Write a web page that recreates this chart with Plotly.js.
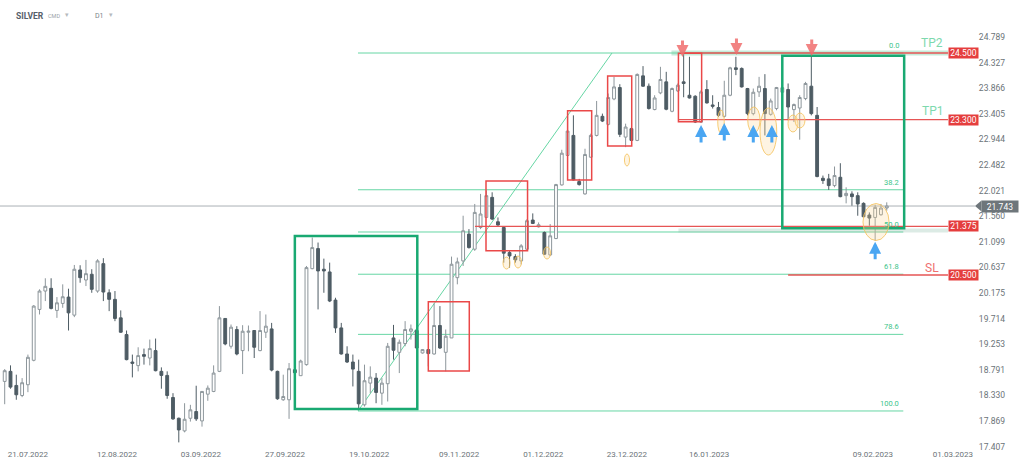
<!DOCTYPE html>
<html><head><meta charset="utf-8">
<script src="https://cdn.plot.ly/plotly-3.0.1.min.js"></script>
<style>html,body{margin:0;padding:0;background:#fff}#chart{width:1024px;height:466px}</style>
</head><body><div id="chart"></div>
<script>
// ---- data (SILVER, D1) ----
const openP = [18.583,18.764,18.510,18.329,18.523,18.963,19.880,20.211,20.260,19.862,19.988,20.102,19.777,20.591,20.410,20.513,20.211,20.705,20.180,20.061,19.728,19.427,18.932,18.867,19.066,19.004,19.138,18.764,18.691,18.293,17.919,17.691,17.919,18.040,17.871,18.353,18.402,18.764,19.717,19.216,19.518,19.138,19.469,19.500,19.138,19.469,19.529,18.764,18.252,18.252,18.794,18.686,18.885,20.614,20.976,20.604,20.555,20.048,19.547,19.077,18.932,18.764,18.161,18.552,18.642,18.371,18.541,19.366,19.107,19.265,19.487,19.500,19.095,19.156,19.077,19.590,19.107,19.366,20.452,20.754,21.237,20.965,21.356,21.537,21.899,21.459,21.356,20.904,20.832,20.754,20.965,21.490,21.369,21.266,20.862,21.157,22.123,22.654,23.015,22.183,21.961,22.623,23.015,23.359,23.214,23.672,23.878,22.985,23.137,22.925,24.088,23.902,23.481,23.781,23.980,23.450,23.817,23.980,23.739,23.721,23.256,23.842,23.564,23.517,23.359,23.739,24.233,24.222,23.860,23.408,23.799,23.860,23.395,23.499,23.793,23.842,23.480,23.509,23.679,23.902,23.377,22.243,22.232,22.111,22.261,21.930,21.961,21.930,21.791,21.581,21.537,21.586,21.707];
const highP = [18.805,18.872,18.704,18.642,19.066,19.958,20.242,20.441,20.441,20.102,20.332,20.253,20.681,20.676,20.772,20.604,20.785,20.803,20.242,20.211,19.862,19.500,19.066,19.198,19.174,19.337,19.355,18.836,18.764,18.371,17.931,18.190,18.161,18.505,18.402,18.510,18.872,19.940,19.717,19.608,19.578,19.596,19.590,19.500,19.850,19.789,19.637,18.776,18.704,18.914,18.812,18.975,20.663,21.175,21.085,20.795,20.723,20.090,19.637,19.216,19.066,18.975,18.885,18.854,18.733,18.642,19.276,19.601,19.337,19.669,19.608,19.500,19.167,19.167,19.988,19.940,19.518,20.832,20.814,21.568,21.327,21.780,21.961,22.020,21.990,21.537,21.356,20.935,20.875,21.056,21.508,21.610,21.447,21.284,21.418,22.142,22.757,23.408,23.377,22.232,22.775,23.046,23.636,23.408,23.770,24.070,23.938,23.227,23.166,24.132,24.264,23.951,23.739,24.251,24.161,23.878,23.951,24.481,24.432,23.739,23.830,24.011,23.739,23.618,24.000,24.251,24.432,24.240,23.871,23.860,24.070,24.119,23.679,23.889,23.920,23.951,23.589,23.739,23.980,24.481,23.527,22.292,22.322,22.455,22.514,22.080,22.008,21.990,21.809,21.628,21.767,21.780,21.809];
const lowP = [18.172,18.451,18.252,18.299,18.389,18.945,19.789,20.030,19.880,19.728,19.909,19.500,19.741,20.361,20.301,20.180,20.180,20.030,19.849,19.668,19.457,18.963,18.655,18.764,18.885,18.872,18.764,18.451,18.270,17.890,17.484,17.665,17.859,17.871,17.768,18.233,18.389,18.751,19.234,19.174,19.053,18.715,19.126,19.004,19.126,19.366,18.764,18.252,18.233,17.908,18.727,18.686,18.867,20.604,19.880,20.180,20.012,19.457,19.066,18.914,18.492,18.071,18.130,18.371,18.190,18.161,18.221,18.975,18.733,19.216,19.337,19.167,19.084,18.854,19.066,19.167,18.764,19.366,20.332,20.663,20.976,20.935,21.327,21.526,21.490,21.387,20.723,20.633,20.723,20.692,20.945,21.418,21.356,20.862,20.844,21.146,22.111,22.636,22.202,22.111,21.948,22.612,22.997,23.256,23.196,23.649,22.985,22.804,22.912,22.912,23.890,23.481,23.468,23.757,23.468,23.432,23.799,23.703,23.680,23.238,23.238,23.589,23.499,23.346,23.336,23.721,24.101,23.878,23.377,23.377,23.708,23.015,23.372,23.468,23.775,23.287,23.256,22.938,23.649,23.377,22.261,22.141,22.033,22.080,21.900,21.791,21.749,21.568,21.538,21.387,21.116,21.568,21.659];
const closeP = [18.776,18.480,18.342,18.559,19.017,19.940,20.211,20.296,19.898,19.999,20.108,19.818,20.604,20.452,20.524,20.242,20.754,20.193,20.061,19.717,19.469,18.975,18.908,19.048,19.035,19.174,18.776,18.691,18.329,17.908,17.709,17.901,18.071,17.908,18.402,18.461,18.733,19.728,19.258,19.560,19.077,19.487,19.487,19.198,19.500,19.578,18.787,18.270,18.311,18.812,18.740,18.950,20.633,20.994,20.573,20.573,20.031,19.547,19.077,18.932,18.805,18.179,18.595,18.660,18.384,18.552,19.216,19.144,19.288,19.518,19.529,19.185,19.156,19.084,19.590,19.185,19.397,20.694,20.736,21.297,20.994,21.628,21.599,21.930,21.508,21.400,20.893,20.844,20.772,21.025,21.478,21.429,21.405,20.875,21.206,22.129,22.695,23.093,22.214,22.129,22.672,23.015,23.377,23.274,23.698,23.889,23.034,23.166,22.925,24.114,23.902,23.499,23.690,24.023,23.486,23.860,23.920,23.951,23.690,23.256,23.799,23.600,23.540,23.377,23.739,24.233,24.204,23.889,23.408,23.793,23.902,23.408,23.636,23.878,23.875,23.527,23.571,23.698,23.951,23.408,22.274,22.202,22.111,22.292,21.912,21.971,21.912,21.780,21.550,21.526,21.718,21.707,21.743];

const tickLabels = ['21.07.2022','12.08.2022','03.09.2022','27.09.2022','19.10.2022','09.11.2022','01.12.2022','23.12.2022','16.01.2023','09.02.2023','01.03.2023'];
const tickBars = [4.0,19.35,33.8,48.3,62.8,78.3,92.8,107.2,121.4,149.6,163.4];
const priceTicks = [17.407,17.869,18.330,18.791,19.253,19.714,20.175,20.637,21.099,21.560,22.021,22.482,22.944,23.405,23.866,24.327,24.789];

const fibLevels = [0.0, 38.2, 50.0, 61.8, 78.6, 100.0];
const fibHigh = 24.5, fibLow = 18.05;
const levelPrices = [24.5, 23.3, 21.375, 20.5];
const levelNames = ['TP2','TP1','','SL'];
const lastPrice = 21.743;

// ---- overlays ----
const FONT = 'Roboto, "Open Sans", sans-serif';
const shapes = [];
const ann = [];
const XR = 162.55; // right end of level lines (bar units)

// current price line
shapes.push({type:'line', xref:'x', yref:'y', x0:-1, x1:167.2, y0:lastPrice, y1:lastPrice, line:{color:'#aab1b5', width:1}, layer:'below'});

// fibonacci
fibLevels.forEach(l => {
  const p = fibHigh - l/100*(fibHigh - fibLow);
  shapes.push({type:'line', xref:'x', yref:'y', x0:60.88, x1:154.85, y0:p, y1:p, line:{color:'#66d6a4', width:1}, layer:'below'});
  ann.push({xref:'x', yref:'y', x:154.5, y:p, xanchor:'right', yanchor:'bottom', yshift:1, text:l.toFixed(1), showarrow:false, font:{family:FONT, size:7.5, color:'#3cc48a'}});
});
shapes.push({type:'line', xref:'x', yref:'y', x0:60.88, y0:fibLow, x1:104.65, y1:fibHigh, line:{color:'#66d6a4', width:1}, layer:'below'});

// pale bands
shapes.push({type:'line', xref:'x', yref:'y', x0:114.9, x1:XR, y0:24.5, y1:24.5, line:{color:'rgba(110,205,160,0.4)', width:5}});
shapes.push({type:'line', xref:'x', yref:'y', x0:116.1, x1:XR, y0:21.30, y1:21.30, line:{color:'rgba(140,190,170,0.3)', width:4}});

// red level lines
const lineStarts = [116.9, 116.1, 81.04, 135.0];
levelPrices.forEach((p,i) => {
  shapes.push({type:'line', xref:'x', yref:'y', x0:lineStarts[i], x1:XR, y0:p, y1:p, line:{color:'#e65555', width:1.3}});
  ann.push({xref:'paper', yref:'y', x:948/1024, y:p, xanchor:'left', yanchor:'middle', text:p.toFixed(3), showarrow:false, bgcolor:'#e53e3e', width:29, height:10, borderpad:0, font:{family:FONT, size:8.5, color:'#ffffff'}});
});
// level names
const nameY = [24.68, 23.455, 0, 20.626];
const nameCol = ['#7dd9ae','#7dd9ae','','#ef6f6f'];
levelNames.forEach((n,i) => {
  if (!n) return;
  ann.push({xref:'paper', yref:'y', x:932/1024, y:nameY[i], xanchor:'center', yanchor:'middle', text:n, showarrow:false, font:{family:FONT, size:12, color:nameCol[i]}});
});

// green boxes
[[50.0,71.1,18.086,21.203],[134.0,155.0,21.341,24.451]].forEach(b => {
  shapes.push({type:'rect', xref:'x', yref:'y', x0:b[0], x1:b[1], y0:b[2], y1:b[3], line:{color:'#19a972', width:2.5}});
});
// red boxes
[[73.0,80.06,18.770,20.019],[82.94,90.1,20.938,22.194],[97.0,101.15,22.212,23.460],[103.9,108.05,22.824,24.086],[116.1,120.1,23.262,24.495]].forEach(b => {
  shapes.push({type:'rect', xref:'x', yref:'y', x0:b[0], x1:b[1], y0:b[2], y1:b[3], line:{color:'#ea4848', width:1.5}});
});
// yellow ellipses
[[85.87,87.08,20.608,20.824],[87.85,89.06,20.626,20.842],[92.85,94.06,20.788,21.005],[106.8,107.67,22.464,22.680],
 [122.87,124.0,23.053,23.473],[128.04,130.16,23.059,23.527],[130.16,133.04,22.662,23.509],[134.98,136.7,23.077,23.383],
 [136.2,137.9,23.149,23.419],[147.9,152.4,21.122,21.788]].forEach(e => {
  shapes.push({type:'circle', xref:'x', yref:'y', x0:e[0], x1:e[1], y0:e[2], y1:e[3], fillcolor:'rgba(253,215,150,0.28)', line:{color:'rgba(245,195,95,0.85)', width:1}});
});

// arrows
[[120.0,23.203],[124.0,23.239],[129.0,23.203],[132.2,23.203],[150.0,21.100]].forEach(a => {
  ann.push({xref:'x', yref:'y', x:a[0], y:a[1], ax:0, ay:19, text:'', showarrow:true, arrowhead:2, arrowsize:0.8, arrowwidth:3, arrowcolor:'#4aa6f2', standoff:0});
});
[[116.8,24.428],[126.1,24.464],[139.07,24.446]].forEach(a => {
  ann.push({xref:'x', yref:'y', x:a[0], y:a[1], ax:0, ay:-18, text:'', showarrow:true, arrowhead:2, arrowsize:0.8, arrowwidth:3, arrowcolor:'rgba(240,110,110,0.85)', standoff:0});
});

// last price label
const PH = 448;
const yLast = (25.455 - lastPrice) * 55.5;
shapes.push({type:'path', xref:'paper', yref:'paper', path:`M ${975/1024} ${1-yLast/PH} L ${981.5/1024} ${1-(yLast-5.5)/PH} L ${981.5/1024} ${1-(yLast+5.5)/PH} Z`, fillcolor:'#6e767b', line:{width:0}});
ann.push({xref:'paper', yref:'y', x:981/1024, y:lastPrice, xanchor:'left', yanchor:'middle', text:lastPrice.toFixed(3), showarrow:false, bgcolor:'#6e767b', width:36, height:11, borderpad:0, font:{family:FONT, size:8.5, color:'#ffffff'}});

// header
ann.push({xref:'paper', yref:'paper', x:14/1024, y:1-16/PH, xanchor:'left', yanchor:'middle', text:'<b>SILVER</b>', showarrow:false, font:{family:FONT, size:8.5, color:'#56606a'}});
ann.push({xref:'paper', yref:'paper', x:46/1024, y:1-16/PH, xanchor:'left', yanchor:'middle', text:'CMD', showarrow:false, font:{family:FONT, size:5.5, color:'#9aa1a6'}});
ann.push({xref:'paper', yref:'paper', x:63/1024, y:1-15/PH, xanchor:'left', yanchor:'middle', text:'▾', showarrow:false, font:{family:'DejaVu Sans', size:7, color:'#b5babe'}});
ann.push({xref:'paper', yref:'paper', x:93/1024, y:1-16/PH, xanchor:'left', yanchor:'middle', text:'D1', showarrow:false, font:{family:FONT, size:7, color:'#7a8288'}});
ann.push({xref:'paper', yref:'paper', x:107/1024, y:1-15/PH, xanchor:'left', yanchor:'middle', text:'▾', showarrow:false, font:{family:'DejaVu Sans', size:7, color:'#b5babe'}});

const trace = {
  type:'candlestick', open:openP, high:highP, low:lowP, close:closeP,
  increasing:{line:{color:'#8d969b', width:1}, fillcolor:'#ffffff'},
  decreasing:{line:{color:'#4e5c64', width:1}, fillcolor:'#4e5c64'},
  whiskerwidth:0, hoverinfo:'skip'
};

const layout = {
  width:1024, height:466,
  margin:{l:0, r:0, t:0, b:18, pad:0},
  paper_bgcolor:'#ffffff', plot_bgcolor:'#ffffff',
  showlegend:false,
  xaxis:{range:[-0.81,175.65], tickmode:'array', tickvals:tickBars, ticktext:tickLabels, showgrid:false, zeroline:false, showline:false, ticks:'', tickfont:{family:FONT, size:8, color:'#6b7378'}, rangeslider:{visible:false}, fixedrange:true},
  yaxis:{side:'right', range:[17.383,25.455], tickmode:'array', tickvals:priceTicks, ticktext:priceTicks.map(v=>v.toFixed(3)), ticklabelposition:'inside', ticklabeloverflow:'allow', ticklabelstandoff:16, showgrid:false, zeroline:false, showline:false, ticks:'', tickfont:{family:FONT, size:8.5, color:'#6b7378'}, fixedrange:true},
  shapes:shapes, annotations:ann
};
Plotly.newPlot('chart', [trace], layout, {displayModeBar:false, staticPlot:true});
</script></body></html>
